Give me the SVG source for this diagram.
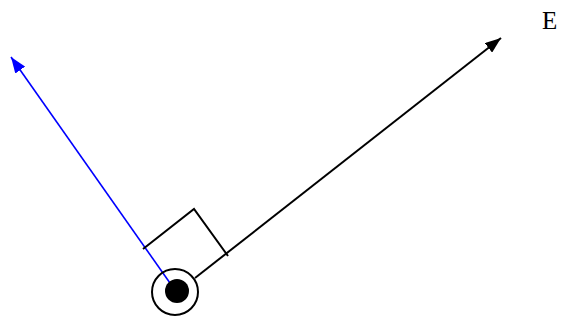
<svg xmlns="http://www.w3.org/2000/svg" width="561" height="322" viewBox="0 0 561 322">
<style>
.k{stroke:#000;stroke-width:2;fill:none}
.b{stroke:#0000ff;stroke-width:1.6;fill:none}
</style>
<defs>
<marker id="ak" markerWidth="16" markerHeight="12" refX="16" refY="6" orient="auto" markerUnits="userSpaceOnUse"><path d="M0,0 L16,6 L0,12 Z" fill="#000"/></marker>
<marker id="ab" markerWidth="16" markerHeight="12" refX="16" refY="6" orient="auto" markerUnits="userSpaceOnUse"><path d="M0,0 L16,6 L0,12 Z" fill="#0000ff"/></marker>
</defs>
<rect width="561" height="322" fill="#fff"/>
<g id="connectors">
<line class="k" x1="195" y1="278" x2="501" y2="38" marker-end="url(#ak)"/>
<line class="b" x1="177" y1="293" x2="11" y2="57" marker-end="url(#ab)"/>
<polyline class="k" points="143,249 194,209 228,256"/>
</g>
<g id="origin">
<circle cx="175" cy="292" r="23" fill="none" stroke="#000" stroke-width="2"/>
<circle cx="177" cy="291" r="12" fill="#000"/>
</g>
<g id="label-E">
<text x="542" y="29" font-family="Liberation Serif, serif" font-size="25" fill="#000">E</text>
</g>
</svg>
